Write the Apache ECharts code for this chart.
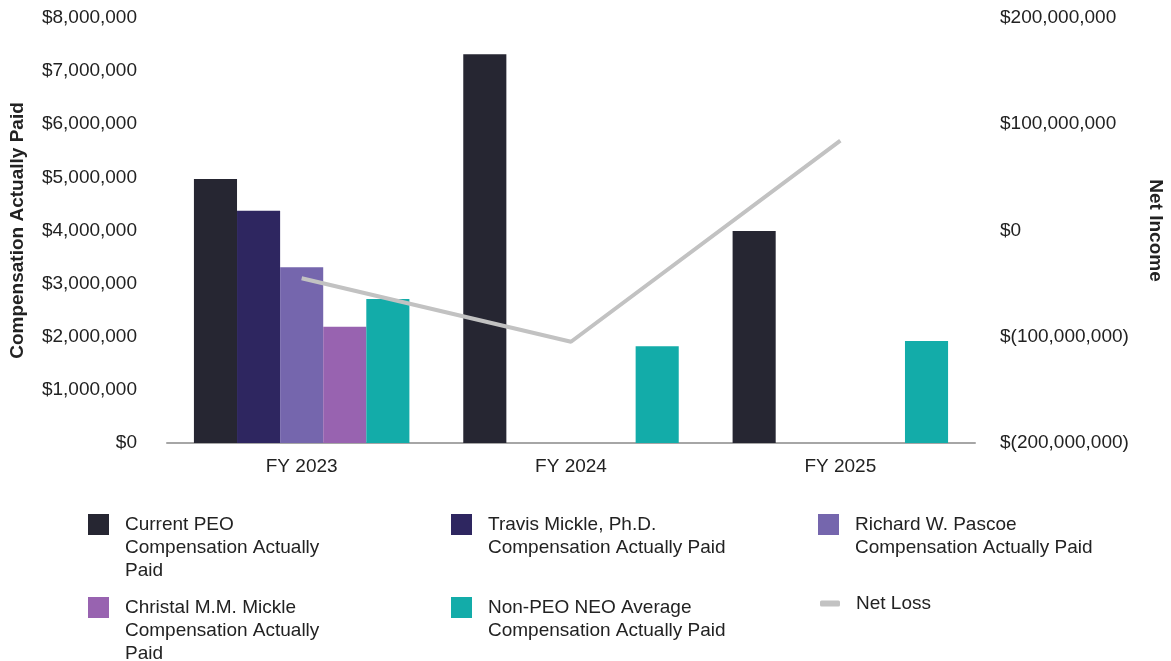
<!DOCTYPE html>
<html>
<head>
<meta charset="utf-8">
<script src="https://cdn.jsdelivr.net/npm/echarts@6/dist/echarts.min.js"></script>
<style>
  html, body { margin: 0; padding: 0; background: #fff; }
  #chart { width: 1171px; height: 661px; }
</style>
</head>
<body>
<div id="chart"></div>
<script>
// data
var years = ['FY 2023', 'FY 2024', 'FY 2025'];
var currentPeo = [4970000, 7320000, 3990000];
var travisMickle = [4370000, null, null];
var richardPascoe = [3310000, null, null];
var christalMickle = [2190000, null, null];
var nonPeoAvg = [2710000, 1820000, 1920000];
var netLoss = [-45000000, -104700000, 84500000];

var font = "'Liberation Sans', Arial, sans-serif";
var textColor = '#222';

function money(v) {
  var s = Math.abs(v).toLocaleString('en-US');
  return v < 0 ? '$(' + s + ')' : '$' + s;
}

// one legend per entry so the columns line up like the picture.
// legend text is centred on the icon, so blank lines on top push the
// first line level with the square
function legendBox(name, lines, left, top, isLine) {
  var pad = [];
  for (var i = 1; i < lines.length; i++) pad.push('');
  var label = pad.concat(lines).join('\n');
  return {
    data: [name],
    left: left,
    top: top,
    padding: 0,
    selectedMode: false,
    itemWidth: isLine ? 20 : 21,
    itemHeight: isLine ? 6 : 21,
    icon: isLine ? 'roundRect' : 'rect',
    formatter: function () { return label; },
    textStyle: {
      fontFamily: font,
      fontSize: 19,
      lineHeight: 23,
      color: textColor,
      padding: [0, 0, 0, 11]
    }
  };
}

var option = {
  animation: false,
  textStyle: { fontFamily: font },
  grid: { left: 167, right: 196, top: 18, bottom: 218, outerBoundsMode: 'none' },
  legend: [
    legendBox('Current PEO', ['Current PEO', 'Compensation Actually', 'Paid'], 88, 467),
    legendBox('Travis Mickle', ['Travis Mickle, Ph.D.', 'Compensation Actually Paid'], 451, 490),
    legendBox('Richard Pascoe', ['Richard W. Pascoe', 'Compensation Actually Paid'], 818, 490),
    legendBox('Christal Mickle', ['Christal M.M. Mickle', 'Compensation Actually', 'Paid'], 88, 550),
    legendBox('Non-PEO', ['Non-PEO NEO Average', 'Compensation Actually Paid'], 451, 573),
    legendBox('Net Loss', ['Net Loss'], 820, 592, true)
  ],
  xAxis: {
    type: 'category',
    data: years,
    axisLine: { lineStyle: { color: '#a6a6a6', width: 2 } },
    axisTick: { show: false },
    axisLabel: { fontSize: 19, color: textColor, margin: 14 }
  },
  yAxis: [
    {
      type: 'value',
      min: 0,
      max: 8000000,
      interval: 1000000,
      name: 'Compensation Actually Paid',
      nameLocation: 'middle',
      nameGap: 140,
      nameTextStyle: { fontSize: 19, fontWeight: 'bold', color: textColor },
      splitLine: { show: false },
      axisLine: { show: false },
      axisTick: { show: false },
      axisLabel: { fontSize: 19, color: textColor, margin: 30, formatter: money }
    },
    {
      type: 'value',
      min: -200000000,
      max: 200000000,
      interval: 100000000,
      name: 'Net Income',
      nameLocation: 'middle',
      nameGap: 171,
      nameRotate: -90,
      nameTextStyle: { fontSize: 19, fontWeight: 'bold', color: textColor },
      splitLine: { show: false },
      axisLine: { show: false },
      axisTick: { show: false },
      axisLabel: { fontSize: 19, color: textColor, margin: 25, formatter: money }
    }
  ],
  series: [
    { name: 'Current PEO', type: 'bar', data: currentPeo, barGap: 0, barCategoryGap: '20%', itemStyle: { color: '#262632' } },
    { name: 'Travis Mickle', type: 'bar', data: travisMickle, itemStyle: { color: '#2e2660' } },
    { name: 'Richard Pascoe', type: 'bar', data: richardPascoe, itemStyle: { color: '#7566ad' } },
    { name: 'Christal Mickle', type: 'bar', data: christalMickle, itemStyle: { color: '#9863b0' } },
    { name: 'Non-PEO', type: 'bar', data: nonPeoAvg, itemStyle: { color: '#13aca9' } },
    {
      name: 'Net Loss',
      type: 'line',
      yAxisIndex: 1,
      data: netLoss,
      symbol: 'none',
      itemStyle: { color: '#c2c2c2' },
      lineStyle: { color: '#c2c2c2', width: 4 },
      z: 5
    }
  ]
};

var chart = echarts.init(document.getElementById('chart'));
chart.setOption(option);
</script>
</body>
</html>
